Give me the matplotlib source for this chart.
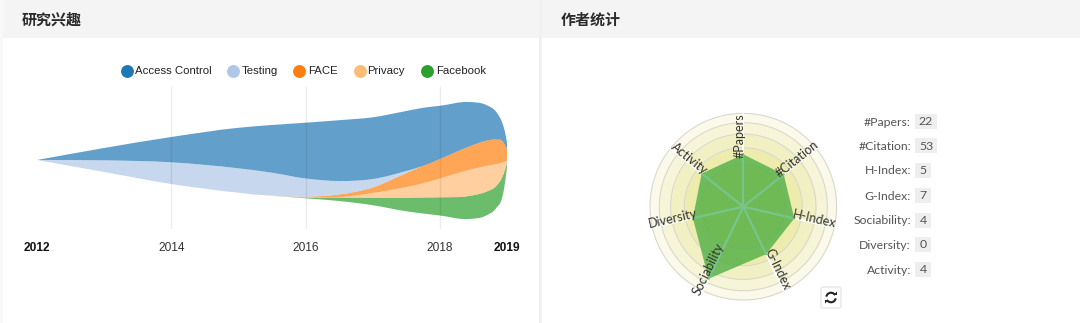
#!/usr/bin/env python3
import matplotlib

matplotlib.use("Agg")
import matplotlib.pyplot as plt
import numpy as np
from matplotlib.patches import Arc, FancyBboxPatch, PathPatch, Polygon, Rectangle
from matplotlib.path import Path

W, H = 1080, 323

# stream chart (thickness in chart units)
stream_years = [2012, 2013, 2014, 2015, 2015.5, 2016, 2016.5, 2017, 2017.5, 2017.75, 2018,
                2018.43, 2018.69, 2018.84, 2018.93, 2018.97, 2019]
stream_base = [0, -12, -24, -32.7, -35.7, -38.3, -41, -45.2, -51.3, -53.5, -55.5, -59, -55.5, -48, -37, -23, -7]
facebook = [0, 0, 0, 0, 0, 0.8, 3.4, 7.5, 13.5, 16, 18.2, 23, 23.8, 22, 20, 13, 4]
privacy = [0, 0, 0, 0, 0, 0.5, 0.4, 4.7, 10.8, 14.2, 18.8, 26, 25.7, 22, 14.5, 8.5, 2.3]
face = [0, 0, 0, 0, 0, 0.3, 2.7, 5.5, 14, 17.5, 19.5, 23.3, 25.3, 24.5, 21.5, 16.5, 11.7]
testing = [0, 11.7, 21.7, 24.4, 23, 18.2, 13.5, 8.5, 2, 0, 0, 0, 0, 0, 0, 0, 0]
access_control = [0, 12.3, 25.3, 40.5, 47.7, 55.8, 60.8, 61.7, 60, 58, 53.2, 44.7, 35.7, 27.5, 18, 13, 6]

legend_labels = ["Access Control", "Testing", "FACE", "Privacy", "Facebook"]
tick_years = [2012, 2014, 2016, 2018, 2019]
grid_years = [2014, 2016, 2018]

# radar chart
radar_labels = ["#Papers", "#Citation", "H-Index", "G-Index", "Sociability", "Diversity", "Activity"]
radar_values = [22, 53, 5, 7, 4, 0, 4]
radar_radius = [52.3, 51.7, 52.3, 52.7, 80, 51.7, 53.3]
ring_radius = [93.3, 84, 72.7, 59, 42.3]

STREAM_COLORS = {
    "Access Control": "#1f77b4",
    "Testing": "#aec7e8",
    "FACE": "#ff7f0e",
    "Privacy": "#ffbb78",
    "Facebook": "#2ca02c",
}
RING_COLORS = ["#fbfaea", "#f6f5d8", "#f1f0c3", "#eeecac", "#eae89e"]
TEXT_COLOR = "#333333"
UI_FONT = ["Lato", "DejaVu Sans"]
CJK_FONT = ["Noto Sans CJK SC", "DejaVu Sans"]
CHART_FONT = ["Liberation Sans", "DejaVu Sans"]


def px_axes(fig, left, top, right, bottom, **kwargs):
    return fig.add_axes([left / W, 1 - bottom / H, (right - left) / W, (bottom - top) / H], **kwargs)


def _curve_segments(x, y):
    # one bezier piece per sample, so the edge passes through every read value
    slopes = np.gradient(y, x)
    verts, codes = [], []
    for i in range(len(x) - 1):
        dx = (x[i + 1] - x[i]) / 3
        verts += [
            (x[i] + dx, y[i] + slopes[i] * dx),
            (x[i + 1] - dx, y[i + 1] - slopes[i + 1] * dx),
            (x[i + 1], y[i + 1]),
        ]
        codes += [Path.CURVE4] * 3
    return verts, codes


def draw_layer(ax, x, lower, upper, color):
    up_verts, up_codes = _curve_segments(x, upper)
    low_verts, low_codes = _curve_segments(x[::-1], lower[::-1])
    verts = [(x[0], upper[0])] + up_verts + [(x[-1], lower[-1])] + low_verts
    codes = [Path.MOVETO] + up_codes + [Path.LINETO] + low_codes
    ax.add_patch(PathPatch(Path(verts, codes), facecolor=color, edgecolor="none", alpha=0.7))


def draw_stream(fig):
    ax = px_axes(fig, 37, 86, 507, 229)
    ax.patch.set_alpha(0)
    x = np.asarray(stream_years, dtype=float)
    lower = np.asarray(stream_base, dtype=float)
    stack = [
        ("Facebook", facebook),
        ("Privacy", privacy),
        ("FACE", face),
        ("Testing", testing),
        ("Access Control", access_control),
    ]
    for name, values in stack:
        upper = lower + np.asarray(values, dtype=float)
        draw_layer(ax, x, lower, upper, STREAM_COLORS[name])
        lower = upper

    ax.set_xlim(2012, 2019)
    ax.set_ylim(-69, 74)
    ax.vlines(grid_years, -69, 74, color="#000000", alpha=0.07, lw=1, zorder=5)
    for spine in ax.spines.values():
        spine.set_visible(False)
    ax.set_yticks([])
    ax.set_xticks(tick_years)
    ax.set_xticklabels([str(y) for y in tick_years], family=CHART_FONT, fontsize=8.6, color=TEXT_COLOR)
    ax.tick_params(axis="x", length=0, pad=9.2)
    for label, year in zip(ax.get_xticklabels(), tick_years):
        if year in (2012, 2019):
            label.set_fontweight("bold")
            label.set_color("#111111")


def draw_radar(fig):
    rmax = 94.0
    cx, cy = 743.3, 206.7
    ax = px_axes(fig, cx - rmax, cy - rmax, cx + rmax, cy + rmax, projection="polar")
    ax.set_theta_zero_location("N")
    ax.set_theta_direction(-1)
    ax.set_ylim(0, rmax)
    ax.set_axis_off()

    theta = np.linspace(0, 2 * np.pi, 361)
    inner = ring_radius[1:] + [0]
    for outer_r, inner_r, color in zip(ring_radius, inner, RING_COLORS):
        ax.fill_between(theta, inner_r, outer_r, color=color, lw=0, zorder=1)
        ax.plot(theta, np.full_like(theta, outer_r), color="#d8d8cc", lw=0.8, zorder=1.5, clip_on=False)

    angles = np.arange(len(radar_labels)) * 2 * np.pi / len(radar_labels)
    for angle in angles:
        ax.plot([angle, angle], [0, ring_radius[0]], color="white", lw=1.4, zorder=2)

    ax.fill(np.r_[angles, angles[0]], np.r_[radar_radius, radar_radius[0]], color="#46ab3d", alpha=0.75,
            lw=0, zorder=4)
    for angle, r in zip(angles, radar_radius):
        ax.plot([angle, angle], [0, r], color="#76c58e", lw=1.5, zorder=5)

    for angle, label in zip(angles, radar_labels):
        deg = np.degrees(angle)
        rotation = 90 - deg if deg < 180 else 270 - deg
        ax.text(angle, 71.5, label, rotation=rotation, rotation_mode="anchor", ha="center", va="baseline",
                family=UI_FONT, fontsize=9, color=TEXT_COLOR, zorder=6, clip_on=False)


def draw_overlay(fig):
    ax = px_axes(fig, 0, 0, W, H, zorder=10)
    ax.set_xlim(0, W)
    ax.set_ylim(H, 0)
    ax.patch.set_alpha(0)
    ax.set_axis_off()

    # legend of the stream chart
    marker_x = [127, 233, 299, 360, 427]
    text_x = [135, 242, 308, 367.5, 436]
    for mx, tx, label in zip(marker_x, text_x, legend_labels):
        ax.scatter([mx], [71], s=86, color=STREAM_COLORS[label], lw=0)
        ax.text(tx, 71, label, va="center", ha="left", family=CHART_FONT, fontsize=8.2, color="#222222")

    # value table beside the radar
    row_y = [121, 145.5, 170, 195, 220, 244.5, 269]
    for y, label, value in zip(row_y, radar_labels, radar_values):
        ax.text(911, y + 1, f"{label}:", ha="right", va="center", family=UI_FONT, fontsize=8.8, color="#555555")
        box_w = 22 if value >= 10 else 16
        ax.add_patch(Rectangle((915, y - 7.5), box_w, 15, facecolor="#eeeeee", edgecolor="none"))
        ax.text(915 + box_w / 2, y + 0.5, str(value), ha="center", va="center", family=UI_FONT, fontsize=8.8,
                color="#555555")

    # refresh button
    ax.add_patch(FancyBboxPatch((821, 287), 20, 21, boxstyle="round,pad=0,rounding_size=2",
                                facecolor="white", edgecolor="#e4e4e4", lw=0.9))
    ax.add_patch(Arc((831, 297.5), 9.5, 9.5, theta1=190, theta2=330, color="#222222", lw=1.5))
    ax.add_patch(Arc((831, 297.5), 9.5, 9.5, theta1=10, theta2=150, color="#222222", lw=1.5))
    ax.add_patch(Polygon([(833.5, 295), (837, 291.5), (837, 295)], color="#222222", lw=0))
    ax.add_patch(Polygon([(828.5, 300), (825, 303.5), (825, 300)], color="#222222", lw=0))


def main():
    fig = plt.figure(figsize=(W / 100, H / 100), dpi=100, facecolor="white")

    bg = px_axes(fig, 0, 0, W, H, zorder=0)
    bg.set_xlim(0, W)
    bg.set_ylim(H, 0)
    bg.set_axis_off()
    bg.add_patch(Rectangle((0, 0), 3, H, facecolor="#f8f8f8", edgecolor="none"))
    bg.add_patch(Rectangle((3, 0), W - 3, 37.5, facecolor="#f4f4f4", edgecolor="none"))
    bg.add_patch(Rectangle((538.5, 0), 3.5, H, facecolor="#f0f0f0", edgecolor="none"))
    bg.text(22, 20, "研究兴趣", family=CJK_FONT, fontsize=10.8, fontweight="bold", color="#2b2b2b", va="center")
    bg.text(561, 20, "作者统计", family=CJK_FONT, fontsize=10.8, fontweight="bold", color="#2b2b2b", va="center")

    draw_stream(fig)
    draw_radar(fig)
    draw_overlay(fig)

    fig.savefig("out.png", dpi=100, facecolor="white")
    plt.close(fig)


if __name__ == "__main__":
    main()
